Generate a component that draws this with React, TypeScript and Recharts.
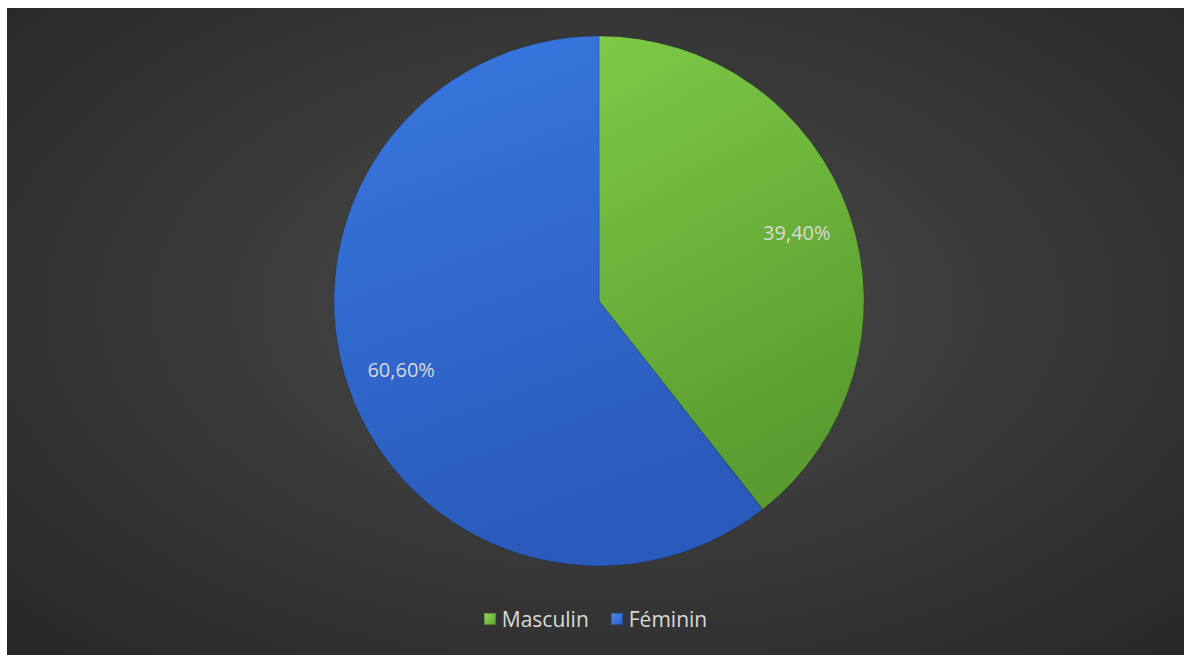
import React from 'react';
import { PieChart, Pie, Cell, Legend } from 'recharts';

const categories = ['Masculin', 'Féminin'];
const shares = [39.4, 60.6];

const data = categories.map((name, i) => ({ name, value: shares[i] }));

const fills = ['url(#gradGreen)', 'url(#gradBlue)'];
const swatches = [
  'linear-gradient(135deg, #8fd85a 0%, #5fa533 100%)',
  'linear-gradient(135deg, #4d8cf0 0%, #2a5cbf 100%)',
];

const RADIAN = Math.PI / 180;

const fmt = (v: number) => v.toFixed(2).replace('.', ',') + '%';

const renderLabel = (props: any) => {
  const { cx, cy, midAngle, outerRadius, value } = props;
  const r = outerRadius * 0.79;
  const x = cx + r * Math.cos(-midAngle * RADIAN);
  const y = cy + r * Math.sin(-midAngle * RADIAN);
  return (
    <text
      x={x}
      y={y}
      fill="#d9d9d9"
      textAnchor="middle"
      dominantBaseline="central"
      style={{ fontFamily: '"Open Sans", sans-serif', fontSize: 20 }}
    >
      {fmt(value)}
    </text>
  );
};

const renderLegend = (props: any) => {
  const items = [...(props.payload || [])].sort(
    (a: any, b: any) => categories.indexOf(a.value) - categories.indexOf(b.value)
  );
  return (
    <div
      style={{
        display: 'flex',
        justifyContent: 'center',
        alignItems: 'center',
        fontFamily: '"Open Sans", sans-serif',
        fontSize: 21,
        color: '#d9d9d9',
      }}
    >
      {items.map((entry: any, i: number) => (
        <div key={entry.value} style={{ display: 'flex', alignItems: 'center', marginRight: i === 0 ? 22 : 0 }}>
          <span
            style={{
              display: 'inline-block',
              width: 12,
              height: 12,
              marginRight: 6,
              background: swatches[categories.indexOf(entry.value)],
              boxShadow: 'inset 0 0 0 1px rgba(0,0,0,0.25)',
            }}
          />
          <span>{entry.value}</span>
        </div>
      ))}
    </div>
  );
};

const App: React.FC = () => {
  return (
    <div
      style={{
        position: 'absolute',
        left: 7,
        top: 8,
        width: 1177,
        height: 647,
        background:
          'radial-gradient(ellipse farthest-corner at 51% 46%, #4b4b4b 0%, #3e3e3e 35%, #272727 100%)',
      }}
    >
      <PieChart width={1177} height={647} margin={{ top: 0, right: 0, bottom: 0, left: 0 }}>
        <defs>
          <linearGradient id="gradGreen" x1="0" y1="0" x2="0.3" y2="1">
            <stop offset="0%" stopColor="#7dca46" />
            <stop offset="100%" stopColor="#5a9c30" />
          </linearGradient>
          <linearGradient id="gradBlue" x1="0" y1="0" x2="0.3" y2="1">
            <stop offset="0%" stopColor="#3878e0" />
            <stop offset="100%" stopColor="#2a5abb" />
          </linearGradient>
        </defs>
        <Pie
          data={data}
          dataKey="value"
          nameKey="name"
          cx={592}
          cy={293}
          outerRadius={265}
          startAngle={90}
          endAngle={-270}
          stroke="rgba(0,0,0,0.18)"
          strokeWidth={1}
          label={renderLabel}
          labelLine={false}
          isAnimationActive={false}
        >
          {data.map((d, i) => (
            <Cell key={d.name} fill={fills[i]} />
          ))}
        </Pie>
        <Legend
          content={renderLegend}
          wrapperStyle={{ position: 'absolute', left: 0, top: 597, width: 1177 }}
        />
      </PieChart>
    </div>
  );
};

export default App;
